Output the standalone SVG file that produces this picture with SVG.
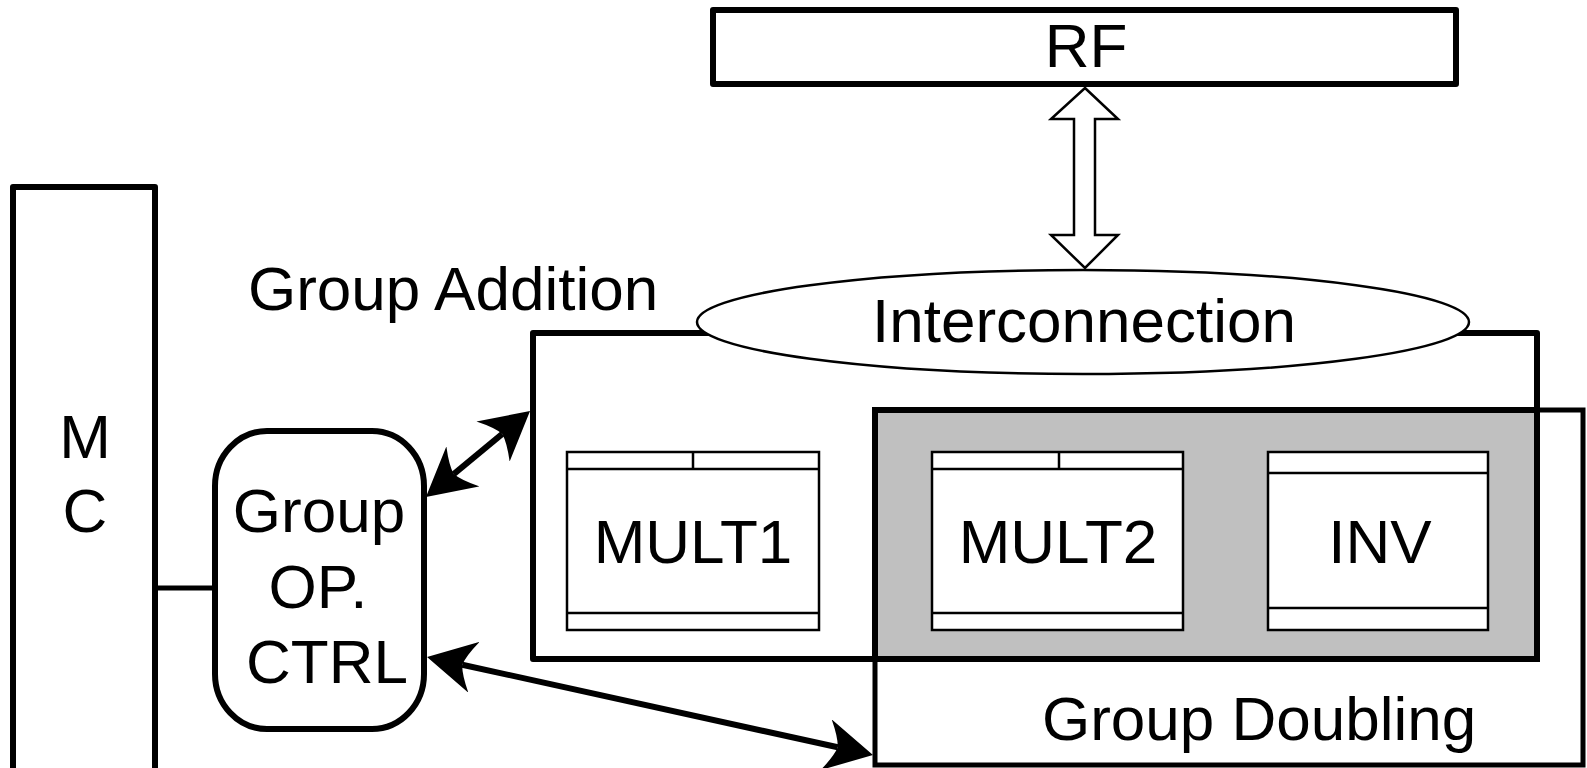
<svg xmlns="http://www.w3.org/2000/svg" width="1587" height="768" viewBox="0 0 1587 768">
<style>
.box{fill:#fff;stroke:#000;stroke-width:6;stroke-linejoin:round}
.thin{fill:#fff;stroke:#000;stroke-width:2.5}
.lbl{font-family:"Liberation Sans",Arial,sans-serif;font-size:62px;fill:#000}
.mid{text-anchor:middle}
.conn{stroke:#000;stroke-width:6;fill:none}
</style>
<defs>
<marker id="ah" markerUnits="userSpaceOnUse" viewBox="0 0 48 52" markerWidth="48" markerHeight="52" refX="12" refY="26" orient="auto-start-reverse">
<path d="M48,26 L0,0 Q10,16 12,26 Q10,36 0,52 Z" fill="#000"/>
</marker>
</defs>
<rect width="1587" height="768" fill="#fff"/>

<g id="mc">
<rect class="box" x="13" y="187" width="142" height="600"/>
<text class="lbl mid" x="85" y="458">M</text>
<text class="lbl mid" x="85" y="532">C</text>
</g>

<g id="group-addition">
<rect class="box" x="533" y="333" width="1004" height="326"/>
<text class="lbl" x="248" y="310">Group Addition</text>
</g>

<g id="group-doubling">
<rect x="875" y="410" width="708" height="355" fill="#fff" stroke="#000" stroke-width="5"/>
<rect x="875" y="410" width="662" height="249" fill="#c0c0c0" stroke="#000" stroke-width="6"/>
<text class="lbl" x="1042" y="740">Group Doubling</text>
</g>

<g id="mult1">
<rect class="thin" x="567" y="452" width="252" height="178"/>
<path d="M567,469 H819 M693,452 V469 M567,613 H819" stroke="#000" stroke-width="2.5"/>
<text class="lbl mid" x="693" y="563">MULT1</text>
</g>

<g id="mult2">
<rect class="thin" x="932" y="452" width="251" height="178"/>
<path d="M932,469 H1183 M1059,452 V469 M932,613 H1183" stroke="#000" stroke-width="2.5"/>
<text class="lbl mid" x="1058" y="563">MULT2</text>
</g>

<g id="inv">
<rect class="thin" x="1268" y="452" width="220" height="178"/>
<path d="M1268,473 H1488 M1268,608 H1488" stroke="#000" stroke-width="2.5"/>
<text class="lbl mid" x="1380" y="563">INV</text>
</g>

<g id="interconnection">
<ellipse cx="1083" cy="322" rx="386" ry="52" fill="#fff" stroke="#000" stroke-width="2.5"/>
<text class="lbl mid" x="1084" y="342">Interconnection</text>
</g>

<g id="rf">
<rect class="box" x="713" y="10" width="743" height="74"/>
<text class="lbl mid" x="1086" y="67">RF</text>
</g>

<g id="op-ctrl">
<rect class="box" x="215" y="431" width="209" height="298" rx="52" ry="55"/>
<text class="lbl mid" x="319" y="532">Group</text>
<text class="lbl mid" x="318" y="608">OP.</text>
<text class="lbl" x="246" y="683">CTRL</text>
</g>

<g id="connectors">
<path d="M1085,88 L1118,119 L1095,119 L1095,235 L1118,235 L1085,268 L1051,235 L1074,235 L1074,119 L1051,119 Z" fill="#fff" stroke="#000" stroke-width="2.5" stroke-linejoin="miter"/>
<line x1="158" y1="588" x2="213" y2="588" stroke="#000" stroke-width="5"/>
<line class="conn" x1="453.7" y1="474.1" x2="502.3" y2="433.9" marker-start="url(#ah)" marker-end="url(#ah)"/>
<line class="conn" x1="462.2" y1="664.7" x2="837.8" y2="747.3" marker-start="url(#ah)" marker-end="url(#ah)"/>
</g>
</svg>
